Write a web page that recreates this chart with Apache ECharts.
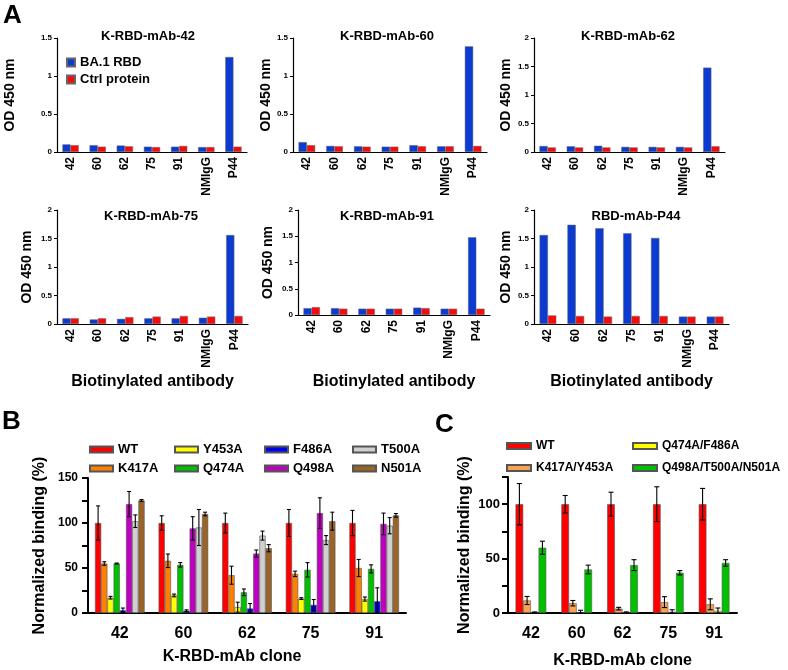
<!DOCTYPE html>
<html><head><meta charset="utf-8">
<script src="https://cdn.jsdelivr.net/npm/echarts@6/dist/echarts.min.js"></script>
<style>html,body{margin:0;padding:0;background:#fff}#c{width:788px;height:670px}</style>
</head><body><div id="c"></div><script>
// ---------- Panel A data ----------
const catsA = ['42','60','62','75','91','NMIgG','P44'];
const titlesA = ['K-RBD-mAb-42','K-RBD-mAb-60','K-RBD-mAb-62','K-RBD-mAb-75','K-RBD-mAb-91','RBD-mAb-P44'];
const yMaxA = [1.5, 1.5, 2, 2, 2, 2];
const ba1_42  = [0.10, 0.09, 0.085, 0.07, 0.07, 0.065, 1.25];
const ctrl_42 = [0.09, 0.07, 0.075, 0.065, 0.08, 0.065, 0.07];
const ba1_60  = [0.13, 0.08, 0.075, 0.07, 0.09, 0.075, 1.39];
const ctrl_60 = [0.09, 0.075, 0.07, 0.07, 0.075, 0.075, 0.08];
const ba1_62  = [0.105, 0.10, 0.11, 0.09, 0.09, 0.09, 1.48];
const ctrl_62 = [0.08, 0.08, 0.08, 0.08, 0.08, 0.08, 0.10];
const ba1_75  = [0.10, 0.08, 0.09, 0.10, 0.10, 0.11, 1.56];
const ctrl_75 = [0.10, 0.10, 0.12, 0.13, 0.14, 0.13, 0.14];
const ba1_91  = [0.13, 0.13, 0.12, 0.12, 0.14, 0.12, 1.48];
const ctrl_91 = [0.15, 0.12, 0.12, 0.12, 0.13, 0.12, 0.12];
const ba1_P44  = [1.56, 1.74, 1.68, 1.59, 1.51, 0.13, 0.13];
const ctrl_P44 = [0.15, 0.14, 0.13, 0.14, 0.14, 0.13, 0.13];
const ba1A = [ba1_42, ba1_60, ba1_62, ba1_75, ba1_91, ba1_P44];
const ctrlA = [ctrl_42, ctrl_60, ctrl_62, ctrl_75, ctrl_91, ctrl_P44];

// ---------- Panel B data ----------
const clonesB = ['42','60','62','75','91'];
const namesB = ['WT','K417A','Y453A','Q474A','F486A','Q498A','T500A','N501A'];
const wtB    = [100, 100, 100, 100, 100];   const wtB_err    = [19, 8, 11, 15, 14];
const k417aB = [55, 58, 42, 43.5, 50];      const k417aB_err = [2, 7.5, 10, 3, 9.5];
const y453aB = [17, 19.5, 6.5, 16, 15.5];   const y453aB_err = [1.5, 1.5, 5.5, 1, 2.3];
const q474aB = [55, 53.5, 23, 48, 49];      const q474aB_err = [0.5, 2.5, 3.7, 8, 4.5];
const f486aB = [3, 2.5, 5, 9, 13];          const f486aB_err = [2.5, 1, 5.5, 6, 15];
const q498aB = [121, 94, 66, 111, 99];      const q498aB_err = [14, 13, 4, 17, 12];
const t500aB = [102, 95, 86, 81, 97];       const t500aB_err = [7, 20, 5, 5, 9];
const n501aB = [125, 110, 72, 102, 108.5];  const n501aB_err = [1, 2, 4, 10, 2];
const valsB = [wtB, k417aB, y453aB, q474aB, f486aB, q498aB, t500aB, n501aB];
const errsB = [wtB_err, k417aB_err, y453aB_err, q474aB_err, f486aB_err, q498aB_err, t500aB_err, n501aB_err];

// ---------- Panel C data ----------
const clonesC = ['42','60','62','75','91'];
const namesC = ['WT','K417A/Y453A','Q474A/F486A','Q498A/T500A/N501A'];
const wtC   = [100, 100, 100, 100, 100];  const wtC_err   = [19, 8, 11, 16, 14.5];
const kyC   = [11.5, 9, 4, 10, 8];        const kyC_err   = [3.7, 2.5, 1.2, 5, 5];
const qfC   = [0.5, 0.5, 0.5, 1, 2];      const qfC_err   = [0.5, 2, 0.5, 2, 2.6];
const qtnC  = [60, 40, 44, 37, 46];       const qtnC_err  = [6, 4, 5, 2, 3];
const valsC = [wtC, kyC, qfC, qtnC];
const errsC = [wtC_err, kyC_err, qfC_err, qtnC_err];

// ---------- styles / layout ----------
const FF = 'Liberation Sans, Arial, sans-serif';
const colA = ['#0b3bd0', '#f80a0a'];
const colB = ['#ff0000','#ff8000','#ffff00','#00c000','#0000ee','#c000c0','#d0d0d0','#9a6428'];
const colC = ['#ff0000','#f8a354','#ffff00','#00c000'];
const gridsA = [
  {left:57, top:38, width:190, height:114},
  {left:293, top:38, width:194, height:114},
  {left:534, top:38, width:191, height:114},
  {left:57, top:210, width:191, height:114},
  {left:298, top:210, width:192, height:105},
  {left:534, top:210, width:195, height:114}
];
const nameGapA = [40, 17, 21, 23, 23, 21];
const titlePosA = [[148,30],[387,30],[628,30],[151,210],[387,210],[636,210]];
const xNameGapA = [0,0,0,50,59,50];
const gridB = {left:88, top:478, width:318, height:135};
const gridC = {left:508, top:477, width:229, height:136};
const gapA = 0.40, gapB = 0.22, gapC = 0.33;

function errRender(i, n, gap, cap) {
  return function (params, api) {
    const ci = api.value(0), v = api.value(1), e = api.value(2);
    const base = api.coord([ci, v]);
    const band = api.size([1, 0])[0];
    const gw = band * (1 - gap);
    const bw = gw / n;
    const x = base[0] - gw / 2 + (i + 0.5) * bw;
    const yHi = api.coord([ci, v + e])[1];
    const yLo = api.coord([ci, Math.max(0, v - e)])[1];
    const style = {stroke:'#000', lineWidth:1.1};
    return {type:'group', children:[
      {type:'line', shape:{x1:x, y1:yHi, x2:x, y2:yLo}, style},
      {type:'line', shape:{x1:x-cap, y1:yHi, x2:x+cap, y2:yHi}, style},
      {type:'line', shape:{x1:x-cap, y1:yLo, x2:x+cap, y2:yLo}, style}
    ]};
  };
}

const grid = [], xAxis = [], yAxis = [], series = [], title = [], legend = [];
const bold = (s) => ({fontSize:s, fontWeight:'bold', color:'#000', fontFamily:FF});

// Panel A
gridsA.forEach((g, k) => {
  grid.push(g);
  xAxis.push({
    type:'category', gridIndex:k, data:catsA,
    axisLine:{lineStyle:{color:'#000', width:1.2}},
    axisTick:{length:3, lineStyle:{color:'#000', width:1}},
    axisLabel:Object.assign({rotate:90, margin:5, interval:0}, bold(12)),
    name: k >= 3 ? 'Biotinylated antibody' : '', nameLocation:'middle', nameGap:xNameGapA[k],
    nameTextStyle:bold(16)
  });
  yAxis.push({
    type:'value', gridIndex:k, min:0, max:yMaxA[k], interval:0.5,
    splitLine:{show:false},
    axisLine:{show:true, lineStyle:{color:'#000', width:1.2}},
    axisTick:{show:true, length:3, lineStyle:{color:'#000', width:1}},
    axisLabel:Object.assign({margin:5}, bold(8)),
    name:'OD 450 nm', nameLocation:'middle', nameGap:nameGapA[k], nameTextStyle:bold(14)
  });
  series.push({type:'bar', name:'BA.1 RBD', xAxisIndex:k, yAxisIndex:k, data:ba1A[k],
    barGap:'0%', barCategoryGap:(gapA*100)+'%',
    itemStyle:{color:colA[0], borderColor:'#666', borderWidth:0.5}});
  series.push({type:'bar', name:'Ctrl protein', xAxisIndex:k, yAxisIndex:k, data:ctrlA[k],
    barGap:'0%', barCategoryGap:(gapA*100)+'%',
    itemStyle:{color:colA[1], borderColor:'#666', borderWidth:0.5}});
  title.push({text:titlesA[k], left:titlePosA[k][0], top:titlePosA[k][1], textAlign:'center', padding:0,
    textStyle:bold(13)});
});
legend.push({data:['BA.1 RBD','Ctrl protein'], orient:'vertical', left:66, top:56, padding:0, icon:'rect',
  itemWidth:8, itemHeight:8, itemGap:4, selectedMode:false, textStyle:bold(13)});

// Panel B
const kB = 6;
grid.push(gridB);
xAxis.push({
  type:'category', gridIndex:kB, data:clonesB,
  axisLine:{lineStyle:{color:'#000', width:2}},
  axisTick:{alignWithLabel:true, length:6, lineStyle:{color:'#000', width:2}},
  axisLabel:Object.assign({margin:13}, bold(16)),
  name:'K-RBD-mAb clone', nameLocation:'middle', nameGap:36,
  nameTextStyle:Object.assign({padding:[0,30,0,0]}, bold(16))
});
yAxis.push({
  type:'value', gridIndex:kB, min:0, max:150, interval:25,
  splitLine:{show:false},
  axisLine:{show:true, lineStyle:{color:'#000', width:2}},
  axisTick:{show:true, length:6, lineStyle:{color:'#000', width:2}},
  axisLabel:Object.assign({margin:10, formatter:(v)=> (v % 50 === 0 ? String(v) : '')}, bold(12)),
  name:'Normalized binding (%)', nameLocation:'middle', nameGap:40, nameTextStyle:bold(16)
});
namesB.forEach((nm, i) => {
  series.push({type:'bar', name:nm, xAxisIndex:kB, yAxisIndex:kB, data:valsB[i],
    barGap:'0%', barCategoryGap:(gapB*100)+'%',
    itemStyle:{color:colB[i], borderColor:'#555', borderWidth:0.6}});
});
namesB.forEach((nm, i) => {
  series.push({type:'custom', name:nm+' err', xAxisIndex:kB, yAxisIndex:kB, z:5,
    renderItem:errRender(i, namesB.length, gapB, 2),
    encode:{x:0, y:1},
    data:clonesB.map((c, j) => [j, valsB[i][j], errsB[i][j]])});
});
const legColsB = [89, 174, 264, 352], legRowsB = [443, 462];
namesB.forEach((nm, i) => {
  legend.push({data:[nm], left:legColsB[Math.floor(i/2)], top:legRowsB[i%2], padding:0, icon:'rect',
    itemWidth:23, itemHeight:6, selectedMode:false, textStyle:bold(13)});
});

// Panel C
const kC = 7;
grid.push(gridC);
xAxis.push({
  type:'category', gridIndex:kC, data:clonesC,
  axisLine:{lineStyle:{color:'#000', width:2}},
  axisTick:{alignWithLabel:true, length:6, lineStyle:{color:'#000', width:2}},
  axisLabel:Object.assign({margin:13}, bold(16)),
  name:'K-RBD-mAb clone', nameLocation:'middle', nameGap:40, nameTextStyle:bold(16)
});
yAxis.push({
  type:'value', gridIndex:kC, min:0, max:125, interval:25,
  splitLine:{show:false},
  axisLine:{show:true, lineStyle:{color:'#000', width:2}},
  axisTick:{show:true, length:6, lineStyle:{color:'#000', width:2}},
  axisLabel:Object.assign({margin:8, formatter:(v)=> (v % 50 === 0 ? String(v) : '')}, bold(13)),
  name:'Normalized binding (%)', nameLocation:'middle', nameGap:35, nameTextStyle:bold(16)
});
namesC.forEach((nm, i) => {
  series.push({type:'bar', name:nm, xAxisIndex:kC, yAxisIndex:kC, data:valsC[i],
    barGap:'0%', barCategoryGap:(gapC*100)+'%',
    itemStyle:{color:colC[i], borderColor:'#555', borderWidth:0.6}});
});
namesC.forEach((nm, i) => {
  series.push({type:'custom', name:nm+' errC', xAxisIndex:kC, yAxisIndex:kC, z:5,
    renderItem:errRender(i, namesC.length, gapC, 2.5),
    encode:{x:0, y:1},
    data:clonesC.map((c, j) => [j, valsC[i][j], errsC[i][j]])});
});
const legColsC = [506, 632], legRowsC = [440, 462];
namesC.forEach((nm, i) => {
  legend.push({data:[nm], left:legColsC[Math.floor(i/2)], top:legRowsC[i%2], padding:0, icon:'rect',
    itemWidth:24, itemHeight:6, selectedMode:false, textStyle:bold(12)});
});

// Panel letters
title.push({text:'A', left:3, top:3, padding:0, textStyle:bold(26)});
title.push({text:'B', left:2, top:409, padding:0, textStyle:bold(26)});
title.push({text:'C', left:435, top:412, padding:0, textStyle:bold(26)});

const chart = echarts.init(document.getElementById('c'), null, {renderer:'canvas', width:788, height:670});
chart.setOption({
  backgroundColor:'#ffffff',
  animation:false,
  textStyle:{fontFamily:FF},
  title, legend, grid, xAxis, yAxis, series
});
</script></body></html>
